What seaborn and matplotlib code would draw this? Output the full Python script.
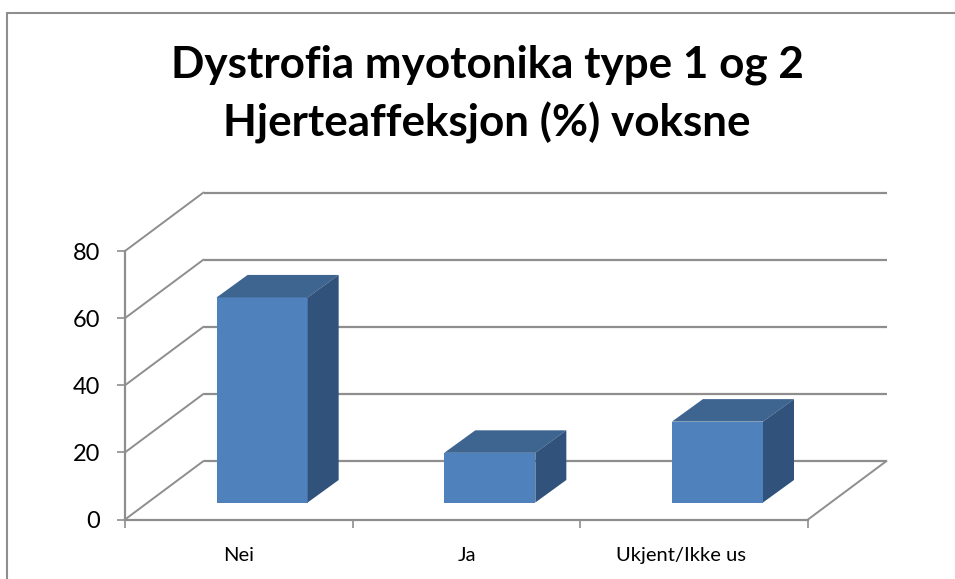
import matplotlib
matplotlib.use("Agg")
import matplotlib.pyplot as plt
from matplotlib.lines import Line2D
from matplotlib.patches import Polygon
from matplotlib.transforms import ScaledTranslation
import seaborn as sns

title = "Dystrofia myotonika type 1 og 2\nHjerteaffeksjon (%) voksne"
categories = ["Nei", "Ja", "Ukjent/Ikke us"]
values = [61.1, 14.8, 24.1]
yticks = [0, 20, 40, 60, 80]

FRONT, TOP, SIDE = "#4F81BD", "#3E6490", "#31527A"
GRID = "#8E8E8E"
W, H, DPI = 955, 579, 100

sns.set_theme(style="white")
plt.rcParams["font.family"] = ["Lato", "DejaVu Sans"]

fig = plt.figure(figsize=(W / DPI, H / DPI), dpi=DPI, facecolor="white")
L, R, T, B = 125, 808, 251, 519.5
ax = fig.add_axes([L / W, 1 - B / H, (R - L) / W, (B - T) / H])
sns.barplot(x=categories, y=values, color=FRONT, saturation=1, width=0.4, ax=ax, zorder=3)
ax.set_xlim(-0.5, 2.5)
ax.set_ylim(0, 80)
ax.patch.set_alpha(0)


def shift(px, py):
    return ax.transData + ScaledTranslation(px / DPI, -py / DPI, fig.dpi_scale_trans)


# back wall grid and side wall diagonals
BACK = (78.5, -58.5)
back = shift(*BACK)
sx = 3 / (R - L)
sy = 80 / (B - T)
for v in yticks:
    ax.plot([-0.5, 2.5], [v, v], color=GRID, lw=1.6, transform=back, clip_on=False, zorder=1,
            solid_capstyle="butt")
    ax.plot([-0.5, -0.5 + BACK[0] * sx], [v, v - BACK[1] * sy], color=GRID, lw=1.4,
            clip_on=False, zorder=1)
ax.plot([2.5, 2.5 + BACK[0] * sx], [0, -BACK[1] * sy], color=GRID, lw=1.4, clip_on=False, zorder=1)

# bars: front face from seaborn, 3D faces derived from each bar
BAR = (23.3, -17)
DEPTH = (31, -22.5)
bar_tr = shift(*BAR)
dx, dy = DEPTH[0] * sx, -DEPTH[1] * sy
for bar in list(ax.patches):
    bar.set_transform(bar_tr)
    bar.set_clip_on(False)
    bar.set_linewidth(0)
    x0, x1, h = bar.get_x(), bar.get_x() + bar.get_width(), bar.get_height()
    ax.add_patch(Polygon([(x0, h), (x1, h), (x1 + dx, h + dy), (x0 + dx, h + dy)], closed=True,
                         facecolor=TOP, edgecolor="none", transform=bar_tr, clip_on=False, zorder=3))
    ax.add_patch(Polygon([(x1, 0), (x1, h), (x1 + dx, h + dy), (x1 + dx, dy)], closed=True,
                         facecolor=SIDE, edgecolor="none", transform=bar_tr, clip_on=False, zorder=3))

# axes
for s in ("top", "right"):
    ax.spines[s].set_visible(False)
for s in ("left", "bottom"):
    ax.spines[s].set_color(GRID)
    ax.spines[s].set_linewidth(1.6)
ax.set_yticks(yticks)
ax.set_xticks([-0.5, 0.5, 1.5, 2.5])
ax.set_xticklabels([])
ax.set_xticks(range(len(categories)), labels=categories, minor=True)
ax.tick_params(axis="y", length=6, width=1.2, color=GRID, labelsize=17, labelcolor="black", pad=12, left=True)
ax.tick_params(axis="x", which="major", length=6, width=1.2, color=GRID, bottom=True)
ax.tick_params(axis="x", which="minor", length=0, labelsize=14.5, labelcolor="black", pad=19.5)
# the last label is cut off in the source and sits left of its slot
minor = ax.get_xticklabels(minor=True)
minor[2].set_transform(minor[2].get_transform() + ScaledTranslation(-13.5 / DPI, 0, fig.dpi_scale_trans))

# title
fig.text(487 / W, 1 - 94.5 / H, title, ha="center", va="center", fontsize=31.7, fontweight="bold",
         color="black", linespacing=1.5)

# chart-area border (left and top only)
for xs, ys in (([6.5, 6.5], [12.5, H]), ([6.5, W], [12.5, 12.5])):
    fig.add_artist(Line2D([x / W for x in xs], [1 - y / H for y in ys], color=GRID, lw=1.5))

fig.savefig("out.png", dpi=DPI, facecolor="white")
